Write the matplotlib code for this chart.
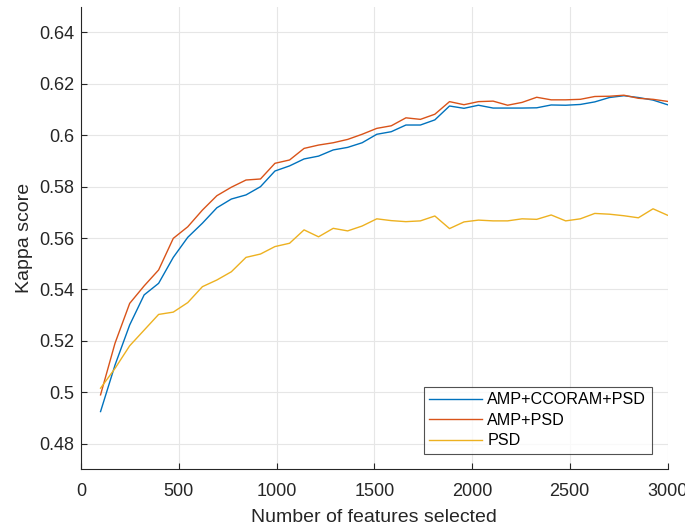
import matplotlib
matplotlib.use("Agg")
import matplotlib.pyplot as plt
from matplotlib.ticker import FuncFormatter

features = [100, 174, 249, 323, 397, 472, 546, 621, 695, 769,
            844, 918, 992, 1067, 1141, 1215, 1290, 1364, 1438, 1513,
            1587, 1662, 1736, 1810, 1885, 1959, 2033, 2108, 2182, 2256,
            2331, 2405, 2479, 2554, 2628, 2703, 2777, 2851, 2926, 3000]

amp_ccoram_psd = [0.4925, 0.5106, 0.5262, 0.5379, 0.5424, 0.5525, 0.5603, 0.5658, 0.5718, 0.5752,
                  0.5768, 0.5800, 0.5861, 0.5881, 0.5908, 0.5919, 0.5943, 0.5953, 0.5971, 0.6004,
                  0.6014, 0.6040, 0.6040, 0.6060, 0.6114, 0.6105, 0.6117, 0.6106, 0.6106, 0.6106,
                  0.6107, 0.6118, 0.6117, 0.6120, 0.6130, 0.6147, 0.6154, 0.6147, 0.6137, 0.6119]

amp_psd = [0.4990, 0.5191, 0.5346, 0.5414, 0.5476, 0.5599, 0.5644, 0.5709, 0.5765, 0.5798,
           0.5826, 0.5830, 0.5891, 0.5904, 0.5949, 0.5962, 0.5971, 0.5984, 0.6004, 0.6027,
           0.6037, 0.6068, 0.6062, 0.6082, 0.6131, 0.6119, 0.6131, 0.6133, 0.6117, 0.6128,
           0.6148, 0.6138, 0.6138, 0.6140, 0.6151, 0.6152, 0.6156, 0.6144, 0.6140, 0.6132]

psd = [0.5016, 0.5093, 0.5181, 0.5242, 0.5303, 0.5312, 0.5349, 0.5411, 0.5437, 0.5469,
       0.5525, 0.5538, 0.5567, 0.5580, 0.5632, 0.5605, 0.5638, 0.5628, 0.5647, 0.5675,
       0.5668, 0.5664, 0.5667, 0.5686, 0.5637, 0.5663, 0.5670, 0.5667, 0.5667, 0.5675,
       0.5673, 0.5690, 0.5667, 0.5675, 0.5696, 0.5693, 0.5687, 0.5679, 0.5714, 0.5689]

series_labels = ["AMP+CCORAM+PSD", "AMP+PSD", "PSD"]
x_ticks = [0, 500, 1000, 1500, 2000, 2500, 3000]
y_ticks = [0.48, 0.50, 0.52, 0.54, 0.56, 0.58, 0.60, 0.62, 0.64]

plt.rcParams['font.family'] = ['Liberation Sans', 'DejaVu Sans']
axis_color = '#262626'

fig = plt.figure(figsize=(6.85, 5.27), dpi=100)
ax = fig.add_axes([81/685, 1 - 469.4/527, (667.5 - 81)/685, 462.6/527])

colors = ['#0072BD', '#D95319', '#EDB120']
for ys, lab, c in zip([amp_ccoram_psd, amp_psd, psd], series_labels, colors):
    ax.plot(features, ys, color=c, lw=1.0, label=lab)

ax.set_xlim(0, 3000)
ax.set_ylim(0.47, 0.65)
ax.set_xticks(x_ticks)
ax.set_yticks(y_ticks)
ax.yaxis.set_major_formatter(FuncFormatter(lambda v, p: f"{v:g}"))
ax.xaxis.set_major_formatter(FuncFormatter(lambda v, p: f"{v:g}"))

ax.grid(True, color='#e6e6e6', lw=0.8)
ax.set_axisbelow(True)
for s in ['top', 'right']:
    ax.spines[s].set_visible(False)
for s in ['left', 'bottom']:
    ax.spines[s].set_color(axis_color)
    ax.spines[s].set_linewidth(0.8)
ax.tick_params(direction='in', length=4, width=0.8, color=axis_color,
               labelcolor=axis_color, labelsize=13)
ax.tick_params(axis='x', pad=10)
ax.tick_params(axis='y', pad=5)

ax.set_xlabel("Number of features selected", fontsize=14, color=axis_color, labelpad=6)
ax.set_ylabel("Kappa score", fontsize=14, color=axis_color, labelpad=4)

leg = ax.legend(loc='lower right', bbox_to_anchor=(0.973, 0.033), borderaxespad=0,
                fontsize=11.6, frameon=True, fancybox=False, handlelength=3.3,
                labelspacing=0.35, borderpad=0.35, handletextpad=0.3)
leg.get_frame().set_edgecolor(axis_color)
leg.get_frame().set_linewidth(0.8)
for t in leg.get_texts():
    t.set_color('#000000')

fig.savefig("out.png", dpi=100)
